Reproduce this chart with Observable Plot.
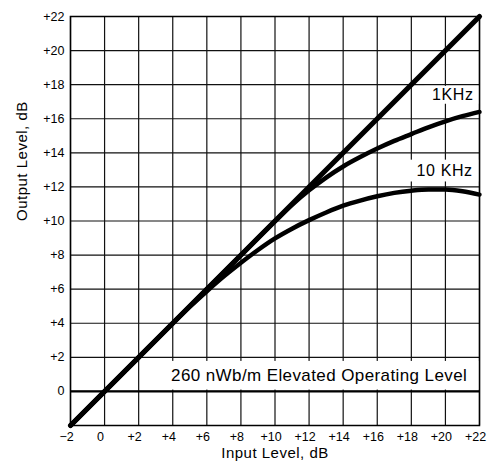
<!DOCTYPE html>
<html>
<head>
<meta charset="utf-8">
<script src="https://cdn.jsdelivr.net/npm/d3@7"></script>
<script src="https://cdn.jsdelivr.net/npm/@observablehq/plot@0.6"></script>
<style>
  html, body { margin: 0; padding: 0; background: #fff; }
  #chart { width: 496px; height: 466px; }
</style>
</head>
<body>
<div id="chart"></div>
<script>
// ---- tick values & labels ----
const xTicks = [-2, 0, 2, 4, 6, 8, 10, 12, 14, 16, 18, 20, 22];
const xTickLabels = ["\u22122", "0", "+2", "+4", "+6", "+8", "+10", "+12", "+14", "+16", "+18", "+20", "+22"];
const yTicks = [0, 2, 4, 6, 8, 10, 12, 14, 16, 18, 20, 22];
const yTickLabels = ["0", "+2", "+4", "+6", "+8", "+10", "+12", "+14", "+16", "+18", "+20", "+22"];
const gridValues = [-2, 0, 2, 4, 6, 8, 10, 12, 14, 16, 18, 20, 22];

// ---- series (input level dB -> output level dB) ----
const referenceInput = [-2, 22];
const referenceOutput = [-2, 22];

const input1k = [-2, 0, 2, 4, 6, 8, 10, 11, 12, 13, 14, 15, 16, 17, 18, 19, 20, 21, 22];
const output1k = [-2, 0, 2, 4, 6, 8, 9.99, 10.95, 11.8, 12.55, 13.2, 13.75, 14.25, 14.7, 15.1, 15.5, 15.85, 16.15, 16.4];

const input10k = [-2, 0, 2, 4, 5, 6, 7, 8, 9, 10, 11, 12, 13, 14, 15, 16, 17, 18, 19, 20, 21, 22];
const output10k = [-2, 0, 2, 4, 4.97, 5.88, 6.75, 7.55, 8.3, 8.98, 9.55, 10.05, 10.5, 10.9, 11.2, 11.45, 11.65, 11.78, 11.85, 11.85, 11.75, 11.55];

const operatingLevel = [0];

// ---- annotations ----
const labelText = ["1KHz", "10 KHz", "260 nWb/m Elevated Operating Level"];
const labelX = [21.65, 21.6, 3.9];
const labelY = [17.4, 12.95, 0.92];
const labelAnchor = ["end", "end", "start"];
const boxX1 = [18.8, 17.95, 3.57];
const boxX2 = [22, 22, 22];
const boxY1 = [16.85, 12.29, 0.08];
const boxY2 = [17.9, 13.57, 1.76];

const xTitle = "Input Level, dB";
const yTitle = "Output Level, dB";

// ---- build tables ----
const toRows = (xs, ys) => xs.map((x, i) => ({x, y: ys[i]}));
const refRows = toRows(referenceInput, referenceOutput);
const rows1k = toRows(input1k, output1k);
const rows10k = toRows(input10k, output10k);
const labels = labelText.map((t, i) => ({t, x: labelX[i], y: labelY[i], a: labelAnchor[i]}));
const boxes = boxX1.map((x1, i) => ({x1, x2: boxX2[i], y1: boxY1[i], y2: boxY2[i]}));
const xLab = new Map(xTicks.map((t, i) => [t, xTickLabels[i]]));
const yLab = new Map(yTicks.map((t, i) => [t, yTickLabels[i]]));

const FONT = "'Liberation Sans', Arial, Helvetica, sans-serif";

const svg = Plot.plot({
  width: 496,
  height: 466,
  marginLeft: 70,
  marginRight: 17,
  marginTop: 16,
  marginBottom: 41,
  style: {fontFamily: FONT, fontSize: "12.5px", color: "#000", background: "#fff"},
  x: {domain: [-2, 22]},
  y: {domain: [-2, 22]},
  marks: [
    Plot.ruleX(gridValues, {stroke: "#111", strokeWidth: 1.2}),
    Plot.ruleY(gridValues, {stroke: "#111", strokeWidth: 1.2}),
    Plot.rect(boxes, {x1: "x1", x2: "x2", y1: "y1", y2: "y2", fill: "#fff"}),
    Plot.ruleY(operatingLevel, {stroke: "#000", strokeWidth: 2.2}),
    Plot.line(refRows, {x: "x", y: "y", stroke: "#000", strokeWidth: 5.2}),
    Plot.line(rows1k, {x: "x", y: "y", stroke: "#000", strokeWidth: 4.5, curve: "monotone-x"}),
    Plot.line(rows10k, {x: "x", y: "y", stroke: "#000", strokeWidth: 4.5, curve: "monotone-x"}),
    Plot.text(labels.filter(d => d.a === "end"), {x: "x", y: "y", text: "t", textAnchor: "end", fontSize: 16, fill: "#000"}),
    Plot.text(labels.filter(d => d.a === "start"), {x: "x", y: "y", text: "t", textAnchor: "start", fontSize: 17, fill: "#000"}),
    Plot.frame({stroke: "#000", strokeWidth: 1.5}),
    Plot.axisX(xTicks, {tickSize: 0, tickPadding: 7, dx: -4, label: null, tickFormat: d => xLab.get(d)}),
    Plot.axisY(yTicks, {tickSize: 0, tickPadding: 6, label: null, tickFormat: d => yLab.get(d)}),
    Plot.text([xTitle], {frameAnchor: "bottom", dy: 32.5, fontSize: 15, fill: "#000"}),
    Plot.text([yTitle], {frameAnchor: "left", dx: -48, rotate: -90, fontSize: 15, fill: "#000"})
  ]
});

document.getElementById("chart").appendChild(svg);

// letter spacing to mimic the wider scanned typeface
d3.select(svg).selectAll("text").filter(function() {
  return this.textContent === labelText[2];
}).style("letter-spacing", "0.4px");
d3.select(svg).selectAll("text").filter(function() {
  return this.textContent === labelText[0] || this.textContent === labelText[1];
}).style("letter-spacing", "0.6px");
d3.select(svg).selectAll("text").filter(function() {
  return this.textContent === xTitle || this.textContent === yTitle;
}).style("letter-spacing", "0.5px");
</script>
</body>
</html>
